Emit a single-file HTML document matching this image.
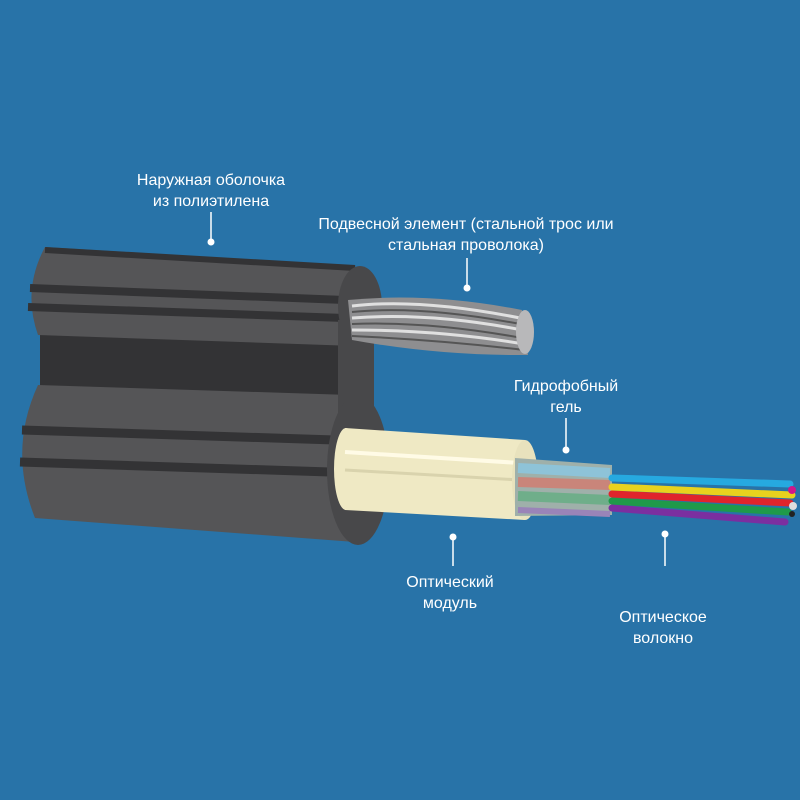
<!DOCTYPE html>
<html><head><meta charset="utf-8"><style>
body{margin:0;background:#2873a8;}
svg{display:block}
text{font-family:"Liberation Sans","DejaVu Sans",sans-serif;font-size:16px;fill:#fff;text-anchor:middle}
</style></head><body>
<svg width="800" height="800" viewBox="0 0 800 800">
<rect width="800" height="800" fill="#2873a8"/>
<!-- neck -->
<rect x="40" y="330" width="305" height="72" fill="#333335"/>
<!-- upper body -->
<path d="M45,247 L355,266 L355,346 L38,335 Q22,290 45,247 Z" fill="#555557"/>
<path d="M45,250 L355,268" stroke="#333335" stroke-width="6"/>
<path d="M30,288 L345,300" stroke="#333335" stroke-width="8"/>
<path d="M28,307 L345,318" stroke="#333335" stroke-width="8"/>
<!-- lower body -->
<path d="M38,385 L350,395 L355,542 L35,518 Q8,450 38,385 Z" fill="#555557"/>
<path d="M22,430 L335,440" stroke="#333335" stroke-width="9"/>
<path d="M20,462 L330,472" stroke="#333335" stroke-width="9"/>
<!-- end faces -->
<g fill="#48484a">
<ellipse cx="360" cy="306" rx="22" ry="40"/>
<rect x="338" y="320" width="36" height="100"/>
<ellipse cx="358" cy="470" rx="31" ry="75"/>
</g>
<!-- steel wire -->
<path d="M348,300 Q430,292 522,310 L528,355 Q440,356 352,340 Z" fill="#8e8e90"/>
<g stroke="#e0e0e0" stroke-width="3" fill="none">
<path d="M352,306 Q420,298 520,318"/><path d="M352,318 Q430,312 522,330"/><path d="M352,330 Q440,330 524,344"/>
</g>
<g stroke="#555" stroke-width="2" fill="none">
<path d="M352,312 Q420,305 520,324"/><path d="M352,324 Q430,321 522,338"/><path d="M352,336 Q440,340 524,350"/>
</g>
<ellipse cx="525" cy="332" rx="9" ry="22" fill="#b8b8ba"/>
<!-- yellow module -->
<path d="M345,428 L525,440 L525,520 L345,510 Z" fill="#efe9c4"/>
<ellipse cx="346" cy="469" rx="12" ry="41" fill="#efe9c4"/>
<path d="M345,452 L520,463" stroke="#fffbe6" stroke-width="4"/>
<path d="M345,470 L520,480" stroke="#d9d3ad" stroke-width="3"/>
<ellipse cx="525" cy="480" rx="13" ry="40" fill="#e8e2bd"/>
<!-- gel -->
<path d="M515,458 L612,465 L612,515 L515,516 Z" fill="#9fb0aa"/>
<path d="M518,468 L610,473" stroke="#8ec3d8" stroke-width="10"/>
<path d="M518,482 L610,485" stroke="#c9857a" stroke-width="10"/>
<path d="M518,496 L610,500" stroke="#6fae8a" stroke-width="10"/>
<path d="M518,510 L610,514" stroke="#9a84b8" stroke-width="6"/>
<!-- fibers -->
<g stroke-linecap="round" stroke-width="7">
<path d="M612,508 L785,522" stroke="#7b2fa0"/>
<path d="M612,501 L788,512" stroke="#1f9a4a"/>
<path d="M612,494 L790,503" stroke="#e0242c"/>
<path d="M612,487 L792,495" stroke="#e8d21e"/>
<path d="M612,478 L790,484" stroke="#26a9e0"/>
</g>
<circle cx="792" cy="490" r="4" fill="#d0178a"/>
<circle cx="793" cy="506" r="4" fill="#ddd"/>
<circle cx="792" cy="514" r="3" fill="#222"/>
<!-- leaders -->
<g stroke="#fff" stroke-width="1.5"><line x1="211" y1="212" x2="211" y2="242"/><line x1="467" y1="258" x2="467" y2="288"/><line x1="566" y1="418" x2="566" y2="450"/><line x1="453" y1="537" x2="453" y2="566"/><line x1="665" y1="534" x2="665" y2="566"/></g>
<g fill="#fff"><circle cx="211" cy="242" r="3.5"/><circle cx="467" cy="288" r="3.5"/><circle cx="566" cy="450" r="3.5"/><circle cx="453" cy="537" r="3.5"/><circle cx="665" cy="534" r="3.5"/></g>
<text x="211" y="185">Наружная оболочка</text>
<text x="211" y="206">из полиэтилена</text>
<text x="466" y="229">Подвесной элемент (стальной трос или</text>
<text x="466" y="250">стальная проволока)</text>
<text x="566" y="391">Гидрофобный</text>
<text x="566" y="412">гель</text>
<text x="450" y="587">Оптический</text>
<text x="450" y="608">модуль</text>
<text x="663" y="622">Оптическое</text>
<text x="663" y="643">волокно</text>
</svg>
</body></html>
